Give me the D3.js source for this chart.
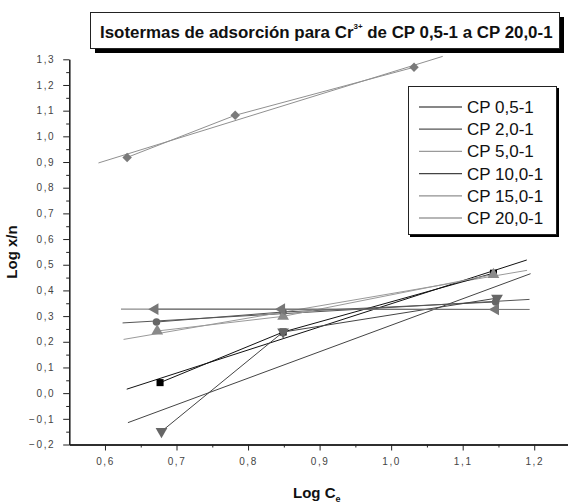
<!DOCTYPE html>
<html>
<head>
<meta charset="utf-8">
<script src="https://cdn.jsdelivr.net/npm/d3@7"></script>
<style>
  body { margin: 0; background: #fff; }
  svg { display: block; font-family: "Liberation Sans", Arial, sans-serif; }
</style>
</head>
<body>
<div id="chart"></div>
<script>
const width = 568;
const height = 504;

// series names (legend order)
const seriesNames = ["CP 0,5-1", "CP 2,0-1", "CP 5,0-1", "CP 10,0-1", "CP 15,0-1", "CP 20,0-1"];

// Log Ce / Log x/n
const cp05x = [0.677, 0.849, 1.143];
const cp05y = [0.041, 0.238, 0.467];
const cp20x = [0.672, 0.849, 1.146];
const cp20y = [0.277, 0.316, 0.355];
const cp50x = [0.673, 0.849, 1.143];
const cp50y = [0.242, 0.299, 0.462];
const cp100x = [0.679, 0.849, 1.148];
const cp100y = [-0.149, 0.238, 0.370];
const cp150x = [0.631, 0.782, 1.032];
const cp150y = [0.918, 1.082, 1.269];
const cp200x = [0.670, 0.847, 1.146];
const cp200y = [0.327, 0.327, 0.326];

const xTicks = [0.6, 0.7, 0.8, 0.9, 1.0, 1.1, 1.2];
const yTicks = [-0.2, -0.1, 0, 0.1, 0.2, 0.3, 0.4, 0.5, 0.6, 0.7, 0.8, 0.9, 1.0, 1.1, 1.2, 1.3];

const styles = [
    { line: "#111", fill: "#000", sym: d3.symbolSquare, size: 50, rot: 0 },
    { line: "#555", fill: "#666", sym: d3.symbolCircle, size: 45, rot: 0 },
    { line: "#9a9a9a", fill: "#8a8a8a", sym: d3.symbolTriangle, size: 60, rot: 0 },
    { line: "#444", fill: "#666", sym: d3.symbolTriangle, size: 60, rot: 180 },
    { line: "#909090", fill: "#7a7a7a", sym: d3.symbolSquare, size: 45, rot: 45 },
    { line: "#6e6e6e", fill: "#777", sym: d3.symbolTriangle, size: 60, rot: -90 }
];

const xs = [cp05x, cp20x, cp50x, cp100x, cp150x, cp200x];
const ys = [cp05y, cp20y, cp50y, cp100y, cp150y, cp200y];

const series = seriesNames.map((name, i) => ({
    name,
    style: styles[i],
    points: xs[i].map((x, j) => ({ x, y: ys[i][j] }))
}));

const svg = d3.select("#chart")
    .append("svg")
    .attr("width", width)
    .attr("height", height);

const x = d3.scaleLinear().domain([0.55, 1.25]).range([69.2, 570]);
const y = d3.scaleLinear().domain([-0.2, 1.3]).range([444.5, 59.3]);

const fmt = d => d3.format(".1f")(d).replace(".", ",");

// axes
svg.append("g")
    .attr("transform", `translate(0,${y(-0.2)})`)
    .call(d3.axisBottom(x).tickValues(xTicks).tickSize(6).tickSizeOuter(0).tickPadding(7).tickFormat(fmt));
svg.append("g")
    .attr("transform", `translate(0,${y(-0.2)})`)
    .call(d3.axisBottom(x).tickValues(d3.range(0.65, 1.25, 0.1)).tickSize(3).tickSizeOuter(0).tickFormat(""));

svg.append("g")
    .attr("transform", `translate(${x(0.55)},0)`)
    .call(d3.axisLeft(y).tickValues(yTicks).tickSize(6).tickSizeOuter(0).tickPadding(8).tickFormat(fmt));
svg.append("g")
    .attr("transform", `translate(${x(0.55)},0)`)
    .call(d3.axisLeft(y).tickValues(d3.range(-0.15, 1.3, 0.1)).tickSize(3).tickSizeOuter(0).tickFormat(""));

svg.selectAll(".domain").attr("stroke", "#222").attr("stroke-width", 1.3);
svg.selectAll(".tick line").attr("stroke", "#222");
svg.selectAll(".tick text")
    .attr("fill", "#444")
    .style("font-size", "10px")
    .style("letter-spacing", "1.6px");

// axis titles
const xt = svg.append("text")
    .attr("x", 293)
    .attr("y", 498)
    .style("font-size", "15px")
    .style("font-weight", "bold")
    .attr("fill", "#111");
xt.append("tspan").text("Log C");
xt.append("tspan").attr("dy", 4).style("font-size", "9px").text("e");

svg.append("text")
    .attr("transform", "translate(17,252) rotate(-90)")
    .attr("text-anchor", "middle")
    .style("font-size", "15px")
    .style("font-weight", "bold")
    .attr("fill", "#111")
    .text("Log x/n");

// linear fit for each series, extended 10% of the x range on both sides
function fit(points) {
    const mx = d3.mean(points, p => p.x);
    const my = d3.mean(points, p => p.y);
    const sxy = d3.sum(points, p => (p.x - mx) * (p.y - my));
    const sxx = d3.sum(points, p => (p.x - mx) ** 2);
    const b = sxy / sxx;
    const [x0, x1] = d3.extent(points, p => p.x);
    const pad = (x1 - x0) * 0.1;
    return [x0 - pad, x1 + pad].map(v => ({ x: v, y: my + b * (v - mx) }));
}

const line = d3.line().x(d => x(d.x)).y(d => y(d.y));

const plot = svg.append("g");

series.forEach(s => {
    plot.append("path")
        .datum(fit(s.points))
        .attr("d", line)
        .attr("fill", "none")
        .attr("stroke", s.style.line)
        .attr("stroke-width", 1);
});

series.forEach(s => {
    plot.append("path")
        .datum(s.points)
        .attr("d", line)
        .attr("fill", "none")
        .attr("stroke", s.style.line)
        .attr("stroke-width", 1);

    plot.selectAll(null)
        .data(s.points)
        .join("path")
        .attr("d", d3.symbol().type(s.style.sym).size(s.style.size))
        .attr("transform", d => `translate(${x(d.x)},${y(d.y)}) rotate(${s.style.rot})`)
        .attr("fill", s.style.fill);
});

// title box with shadow
svg.append("rect")
    .attr("x", 95).attr("y", 17).attr("width", 469).attr("height", 36)
    .attr("fill", "#000");
svg.append("rect")
    .attr("x", 90.5).attr("y", 12.5).attr("width", 469).attr("height", 36)
    .attr("fill", "#fff").attr("stroke", "#222").attr("stroke-width", 1);

const title = svg.append("text")
    .attr("x", 100)
    .attr("y", 38)
    .style("font-size", "17px")
    .style("font-weight", "bold")
    .attr("fill", "#111");
title.append("tspan").text("Isotermas de adsorción para Cr");
title.append("tspan").attr("dy", -9).style("font-size", "8px").text("3+");
title.append("tspan").attr("dy", 9).text(" de CP 0,5-1 a CP 20,0-1");

// squeeze title to the width it has in the picture
const tw = title.node().getComputedTextLength();
const target = 453;
title.attr("transform", `translate(100,0) scale(${target / tw},1) translate(-100,0)`);

// legend
svg.append("rect")
    .attr("x", 410).attr("y", 88).attr("width", 149).attr("height", 149)
    .attr("fill", "#000");
svg.append("rect")
    .attr("x", 408.5).attr("y", 86.5).attr("width", 148).attr("height", 148)
    .attr("fill", "#fff").attr("stroke", "#222").attr("stroke-width", 1);

const legend = svg.append("g");
series.forEach((s, i) => {
    const ly = 107 + i * 22.2;
    legend.append("line")
        .attr("x1", 419).attr("x2", 462)
        .attr("y1", ly).attr("y2", ly)
        .attr("stroke", s.style.line)
        .attr("stroke-width", 1.2);
    legend.append("text")
        .attr("x", 467)
        .attr("y", ly + 6)
        .style("font-size", "17px")
        .attr("fill", "#111")
        .text(s.name);
});
</script>
</body>
</html>
